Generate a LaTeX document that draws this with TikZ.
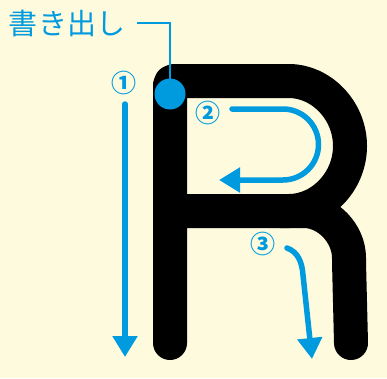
\documentclass[tikz,border=0pt]{standalone}
\usepackage{fontspec}
\newfontfamily\jpfont{Noto Sans CJK JP}
\usetikzlibrary{arrows.meta}
\begin{document}
\begin{tikzpicture}[x=1pt, y=-1pt]
% Stroke order sheet for the letter R
\definecolor{sheetBg}{RGB}{254,250,221}
\definecolor{guideBlue}{RGB}{0,155,223}
\providecommand{\letterWidth}{34pt}
\providecommand{\guideWidth}{5.5pt}
\tikzset{
  letter/.style={line width=\letterWidth, line cap=round, line join=round, rounded corners=4pt},
  guide/.style={draw=guideBlue, line width=\guideWidth, line cap=round,
    -{Triangle[length=21pt, width=24pt]}},
  num/.style={text=guideBlue, font=\jpfont\bfseries\fontsize{25}{25}\selectfont, inner sep=0pt},
}
% Background
\fill[sheetBg] (0,0) rectangle (387,378);
\useasboundingbox (0,0) rectangle (387,378);
% Letter body
\begin{scope}[draw=black]
  \draw[letter] (170,343) -- (170,81) -- (285,81)
    arc[start angle=-90, end angle=90, radius=65] -- (170,211);
  \draw[letter] (280,211) -- (300,211) .. controls (327,211) and (349,233) .. (349,262)
    -- (351,343);
\end{scope}
% Starting point and its label
\node[text=guideBlue, font=\jpfont\fontsize{29}{29}\selectfont, inner sep=0pt] (startlabel) at (67,23) {書き出し};
\node[circle, fill=guideBlue, minimum size=31pt, inner sep=0pt] (startdot) at (170,94) {};
\coordinate (leadbend) at (170,23);
\draw[guideBlue, line width=2pt] ([xshift=12pt]startlabel.east) -- (leadbend) -- (startdot.center);
% Stroke 1
\node[num] (n1) at (124,83) {①};
\coordinate (s1a) at (125,104);
\coordinate (s1b) at (125,357);
\draw[guide] (s1a) -- (s1b);
% Stroke 2
\node[num] (n2) at (208,113) {②};
\coordinate (s2a) at (232,109);
\coordinate (s2b) at (219,180);
\draw[guide] (s2a) -- (283,109) arc[start angle=-90, end angle=90, radius=35.5] -- (s2b);
% Stroke 3
\node[num] (n3) at (263,244) {③};
\coordinate (s3a) at (287,248);
\coordinate (s3b) at (312,359);
\draw[guide] (s3a) .. controls (298,252) and (302,262) .. (303,275) -- (s3b);
\end{tikzpicture}
\end{document}
